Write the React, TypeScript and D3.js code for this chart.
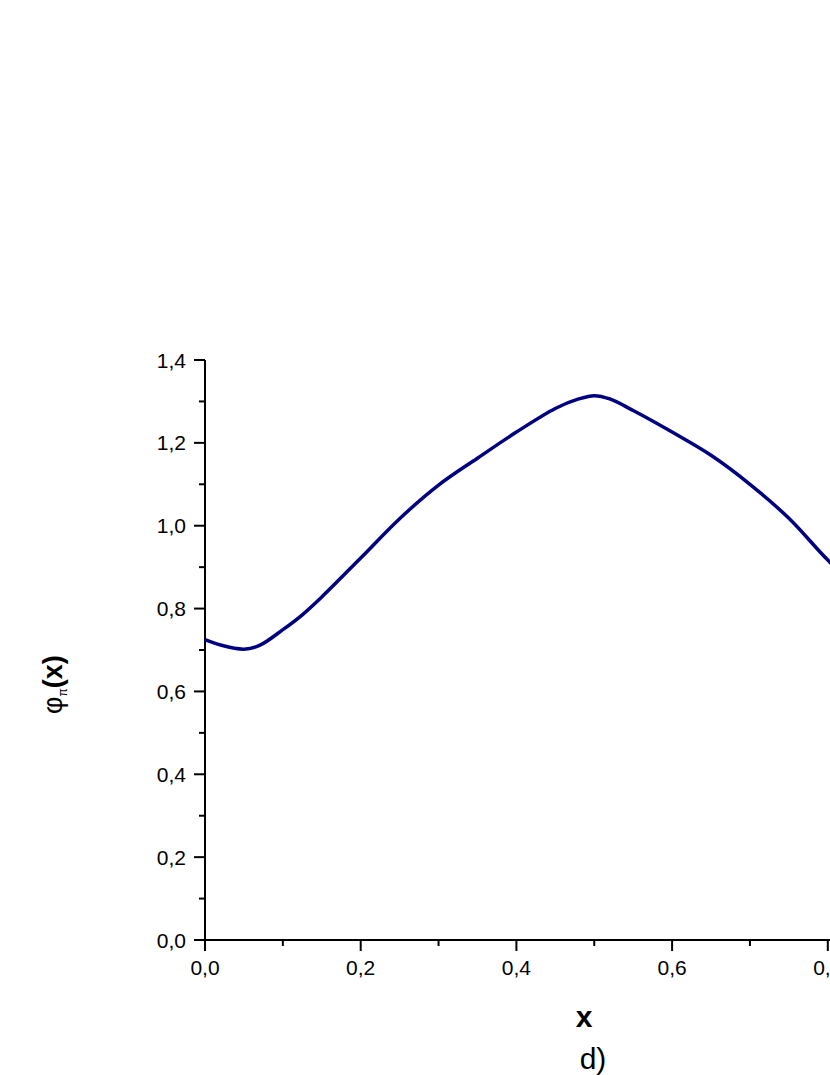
import React from "react";
import * as d3 from "d3";

const xValues = [0, 0.02, 0.05, 0.07, 0.1, 0.125, 0.15, 0.2, 0.25, 0.3, 0.35, 0.4, 0.45, 0.48, 0.5, 0.52, 0.55, 0.6, 0.65, 0.7, 0.75, 0.8, 0.85, 0.875, 0.9, 0.93, 0.95, 0.98, 1.0];
const phiValues = [0.725, 0.712, 0.702, 0.711, 0.749, 0.785, 0.828, 0.922, 1.017, 1.098, 1.163, 1.226, 1.283, 1.306, 1.314, 1.306, 1.278, 1.226, 1.17, 1.1, 1.018, 0.917, 0.828, 0.785, 0.749, 0.711, 0.702, 0.712, 0.725];
const yMajorTicks = [0, 0.2, 0.4, 0.6, 0.8, 1.0, 1.2, 1.4];
const yMinorTicks = [0.1, 0.3, 0.5, 0.7, 0.9, 1.1, 1.3];
const xMajorTicks = [0, 0.2, 0.4, 0.6, 0.8, 1.0];
const xMinorTicks = [0.1, 0.3, 0.5, 0.7, 0.9];

const W = 830;
const H = 1075;

export default function App() {
  const x = d3.scaleLinear().domain([0, 1]).range([205, 983.5]);
  const y = d3.scaleLinear().domain([0, 1.4]).range([940, 360]);
  const pts = xValues.map((v, i) => [v, phiValues[i]] as [number, number]);
  const line = d3
    .line<[number, number]>()
    .x((d) => x(d[0]))
    .y((d) => y(d[1]))
    .curve(d3.curveCatmullRom.alpha(0.5));
  const fmt = (v: number) => v.toFixed(1).replace(".", ",");
  const font = "Arial, 'Liberation Sans', sans-serif";
  return (
    <div style={{ position: "absolute", left: 0, top: 0, width: W, height: H, overflow: "hidden", background: "#fff" }}>
      <svg width={W} height={H} style={{ display: "block" }} fontFamily={font}>
        <rect x={0} y={0} width={W} height={H} fill="#fff" />
        <line x1={x(0)} x2={x(0)} y1={y(0)} y2={y(1.4)} stroke="#000" strokeWidth={2} />
        <line x1={x(0)} x2={x(1)} y1={y(0)} y2={y(0)} stroke="#000" strokeWidth={2} />
        {yMajorTicks.map((t) => (
          <g key={"ym" + t}>
            <line x1={x(0) - 11} x2={x(0)} y1={y(t)} y2={y(t)} stroke="#000" strokeWidth={2} />
            <text x={x(0) - 19} y={y(t)} dy="0.36em" textAnchor="end" fontSize={21}>
              {fmt(t)}
            </text>
          </g>
        ))}
        {yMinorTicks.map((t) => (
          <line key={"yn" + t} x1={x(0) - 6} x2={x(0)} y1={y(t)} y2={y(t)} stroke="#000" strokeWidth={2} />
        ))}
        {xMajorTicks.map((t) => (
          <g key={"xm" + t}>
            <line x1={x(t)} x2={x(t)} y1={y(0)} y2={y(0) + 11} stroke="#000" strokeWidth={2} />
            <text x={x(t)} y={y(0) + 35} textAnchor="middle" fontSize={21}>
              {fmt(t)}
            </text>
          </g>
        ))}
        {xMinorTicks.map((t) => (
          <line key={"xn" + t} x1={x(t)} x2={x(t)} y1={y(0)} y2={y(0) + 6} stroke="#000" strokeWidth={2} />
        ))}
        <path d={line(pts) || ""} fill="none" stroke="#000080" strokeWidth={3.5} />
        <text x={584} y={1027} textAnchor="middle" fontSize={30} fontWeight="bold">
          x
        </text>
        <text x={593} y={1069} textAnchor="middle" fontSize={30}>
          d)
        </text>
        <text transform="translate(62,714) rotate(-90)" fontSize={27}>
          <tspan>φ</tspan>
          <tspan fontSize={12} dy={5}>π</tspan>
          <tspan fontWeight="bold" dy={-5}>(x)</tspan>
        </text>
      </svg>
    </div>
  );
}
